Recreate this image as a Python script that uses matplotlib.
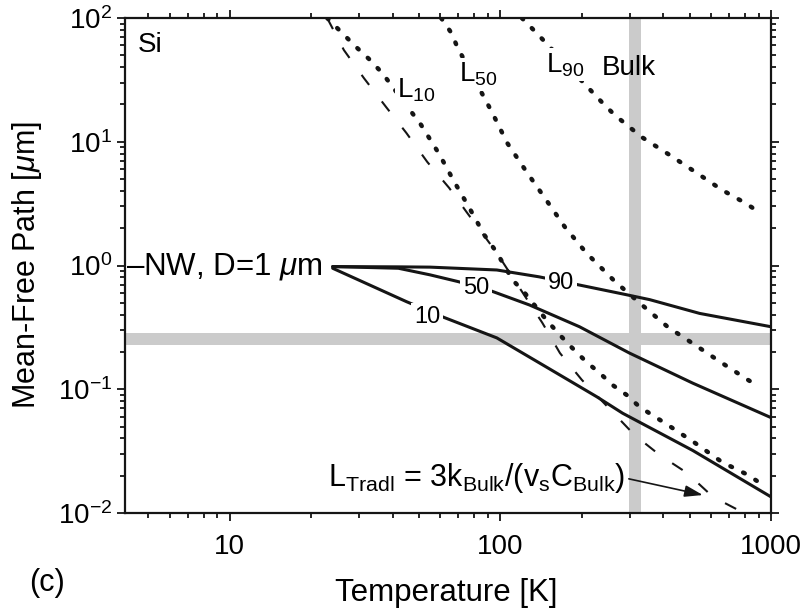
import matplotlib
matplotlib.use("Agg")
import matplotlib.pyplot as plt
from matplotlib.ticker import LogLocator, NullFormatter

plt.rcParams['font.family'] = ['Liberation Sans', 'DejaVu Sans']
plt.rcParams['mathtext.fontset'] = 'custom'
plt.rcParams['mathtext.rm'] = 'Liberation Sans'
plt.rcParams['mathtext.it'] = 'Liberation Sans:italic'
plt.rcParams['mathtext.bf'] = 'Liberation Sans:bold'

# nanowire D=1 um, solid curves (10 / 50 / 90 % accumulation)
nw90_T = [24, 42, 55, 97, 139, 193, 293, 356, 545, 1000]
nw90_L = [0.98, 0.975, 0.97, 0.92, 0.81, 0.70, 0.58, 0.53, 0.41, 0.32]
nw50_T = [24, 42, 55, 70, 93, 128, 196, 300, 514, 1000]
nw50_L = [0.98, 0.95, 0.84, 0.74, 0.62, 0.48, 0.32, 0.196, 0.112, 0.059]
nw10_T = [24, 45, 62, 97, 148, 227, 283, 514, 1000]
nw10_L = [0.95, 0.51, 0.38, 0.26, 0.151, 0.087, 0.064, 0.032, 0.0135]

# bulk, dotted curves
b10_T = [22.9, 26.0, 29.3, 32.7, 36.6, 50.9, 59.4, 67.6, 76.8, 87.3, 96.6, 111, 123,
         148, 166, 183, 208, 233, 260, 293, 327, 416, 524, 659, 822, 910]
b10_L = [100, 75.7, 58.3, 46.6, 35.9, 13.7, 7.96, 4.73, 2.92, 1.76, 1.29, 0.764, 0.600,
         0.363, 0.274, 0.219, 0.166, 0.135, 0.108, 0.0898, 0.0719, 0.0514, 0.0368,
         0.0258, 0.0203, 0.0175]
b50_T = [60.4, 65.9, 69.3, 93.4, 106, 125, 146, 173, 208, 264, 327, 416, 524, 659, 822, 910]
b50_L = [100, 75.7, 58.3, 17.1, 9.77, 5.70, 3.51, 2.05, 1.26, 0.749, 0.498, 0.318,
         0.228, 0.163, 0.119, 0.104]
b90_T = [120, 136, 237, 264, 333, 422, 532, 659, 815, 910]
b90_L = [100, 75.7, 20.9, 16.5, 10.9, 7.82, 5.59, 4.08, 3.14, 2.66]

# traditional MFP, dashed
trad_T = [22.9, 26.4, 31.3, 37.8, 44.9, 53.7, 64.7, 75.4, 96.6, 143, 166, 200,
          313, 388, 489, 610, 781]
trad_L = [100, 55.1, 32.7, 19.1, 11.8, 6.86, 4.23, 2.66, 1.28, 0.343, 0.196, 0.119,
          0.0427, 0.0294, 0.0211, 0.0135, 0.0102]

xtick_vals = [10, 100, 1000]
xtick_labels = ['10', '100', '1000']
ytick_vals = [1e-2, 1e-1, 1e0, 1e1, 1e2]
ytick_labels = ['$10^{-2}$', '$10^{-1}$', '$10^{0}$', '$10^{1}$', '$10^{2}$']

T_room = (298, 330)
L_band = (0.228, 0.285)

fig = plt.figure(figsize=(8.06, 6.15), dpi=100)
ax = fig.add_axes([125/806, 1-513/615, 646/806, 495/615])
ax.set_xscale('log')
ax.set_yscale('log')
ax.set_xlim(4.1, 1000)
ax.set_ylim(1e-2, 1e2)

gray = '#cbcbcb'
ax.axvspan(*T_room, color=gray, lw=0, zorder=0.5)
ax.axhspan(*L_band, color=gray, lw=0, zorder=0.5)

k = '#151515'
for T, L in [(nw90_T, nw90_L), (nw50_T, nw50_L), (nw10_T, nw10_L)]:
    ax.plot(T, L, color=k, lw=2.2, solid_capstyle='round', zorder=2)
for T, L in [(b10_T, b10_L), (b50_T, b50_L), (b90_T, b90_L)]:
    ax.plot(T, L, color=k, lw=3.2, linestyle=(0, (0.4, 2.8)),
            dash_capstyle='round', zorder=2)
ax.plot(trad_T, trad_L, color=k, lw=1.5, linestyle=(0, (6, 10)), zorder=2)

wbox = dict(fc='white', ec='none', pad=2)
fs = 20
ax.text(0.02, 0.945, 'Si', transform=ax.transAxes, fontsize=fs, va='center', ha='left')
ax.text(41.6, 22.6, 'L$_{10}$', fontsize=fs, va='baseline', bbox=wbox, zorder=3)
ax.text(70.5, 30.4, 'L$_{50}$', fontsize=fs, va='baseline', bbox=wbox, zorder=3)
ax.text(147, 36.6, 'L$_{90}$', fontsize=fs, va='baseline', bbox=wbox, zorder=3)
ax.text(237, 34.6, 'Bulk', fontsize=fs, va='baseline', zorder=3)

ax.text(4.12, 0.84, '\u2013NW, D=1 $\\mu$m', fontsize=22.5, va='baseline', ha='left', zorder=3)
ax.text(168, 0.722, '90', fontsize=17, ha='center', va='center', bbox=wbox, zorder=3)
ax.text(81.5, 0.658, '50', fontsize=17, ha='center', va='center', bbox=wbox, zorder=3)
ax.text(53.7, 0.384, '10', fontsize=17, ha='center', va='center', bbox=wbox, zorder=3)

ax.annotate('L$_{\\mathrm{Tradl}}$ = 3k$_{\\mathrm{Bulk}}$/(v$_{\\mathrm{s}}$C$_{\\mathrm{Bulk}}$)',
            xy=(560, 0.01397), xytext=(288, 0.0192), fontsize=22,
            ha='right', va='center', zorder=3,
            arrowprops=dict(arrowstyle='-|>,head_length=0.5,head_width=0.16',
                            color=k, lw=1.2, shrinkA=1, shrinkB=0, relpos=(1, 0.5)))

ax.set_xticks(xtick_vals)
ax.set_xticklabels(xtick_labels)
ax.set_yticks(ytick_vals)
ax.set_yticklabels(ytick_labels)
ax.xaxis.set_minor_locator(LogLocator(base=10, subs=range(2, 10), numticks=20))
ax.yaxis.set_minor_locator(LogLocator(base=10, subs=range(2, 10), numticks=20))
ax.xaxis.set_minor_formatter(NullFormatter())
ax.yaxis.set_minor_formatter(NullFormatter())
ax.tick_params(which='both', direction='out', top=True, right=True, color=k, width=1.3)
ax.tick_params(which='major', length=6, labelsize=20)
ax.tick_params(axis='x', which='major', pad=9)
ax.tick_params(axis='y', which='major', pad=3)
ax.tick_params(which='minor', length=3.5)
for s in ax.spines.values():
    s.set_linewidth(1.6)
    s.set_color(k)

ax.set_xlabel('Temperature [K]', fontsize=22.5)
ax.set_ylabel('Mean-Free Path [$\\mu$m]', fontsize=22)
ax.xaxis.set_label_coords(0.498, -0.131)
ax.yaxis.set_label_coords(-0.126, 0.5)

fig.text(47/806, 1-583/615, '(c)', fontsize=22, ha='center', va='center')

fig.savefig('out.png', dpi=100)
